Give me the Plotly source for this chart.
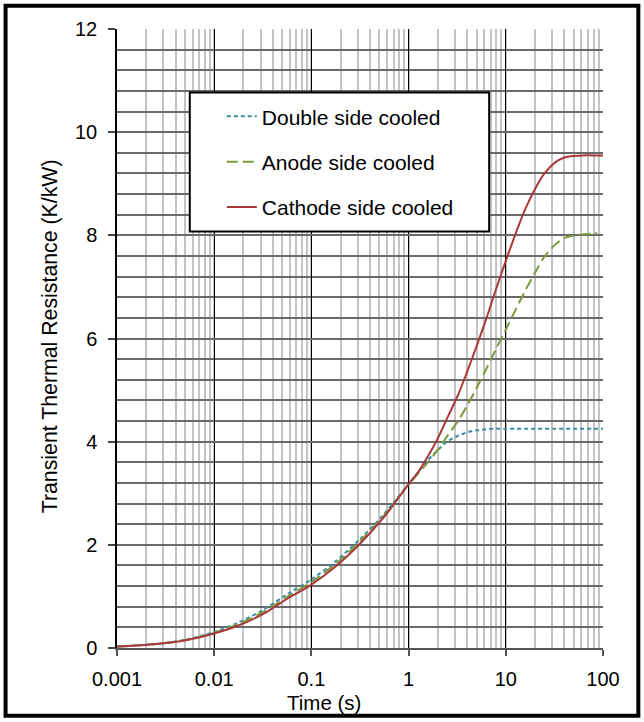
import plotly.graph_objects as go

# ---- data ----
time_s = [0.001, 0.0018, 0.0032, 0.0056, 0.01, 0.018, 0.032, 0.056, 0.1, 0.18, 0.32, 0.56,
          1, 1.26, 1.58, 2, 2.5, 3.2, 4, 5, 6.3, 7.9, 10, 12.6, 15.8, 20, 25, 32, 40, 50, 63, 79, 100]

double_side = [0.03, 0.058, 0.10, 0.18, 0.31, 0.50, 0.74, 1.04, 1.33, 1.69, 2.12, 2.60,
               3.18, 3.415, 3.64, 3.84, 4.00, 4.11, 4.18, 4.22, 4.24, 4.25, 4.25, 4.25, 4.25,
               4.25, 4.25, 4.25, 4.25, 4.25, 4.25, 4.25, 4.25]

anode_time = [0.001, 0.0018, 0.0032, 0.0056, 0.01, 0.018, 0.032, 0.056, 0.1, 0.18, 0.32, 0.56,
              1, 1.26, 1.58, 2, 2.5, 3.2, 4, 5, 6.3, 7.9, 10, 12.6, 15.8, 20, 25, 32, 40, 50, 63, 79, 87]
anode_side = [0.03, 0.056, 0.097, 0.17, 0.295, 0.47, 0.70, 0.99, 1.28, 1.64, 2.08, 2.57,
              3.17, 3.385, 3.60, 3.845, 4.11, 4.39, 4.70, 5.04, 5.41, 5.79, 6.175, 6.555, 6.925,
              7.275, 7.585, 7.815, 7.945, 7.995, 8.02, 8.035, 8.04]

cathode_side = [0.03, 0.055, 0.095, 0.165, 0.28, 0.44, 0.66, 0.95, 1.23, 1.59, 2.03, 2.54,
                3.175, 3.415, 3.715, 4.065, 4.46, 4.89, 5.355, 5.85, 6.385, 6.945, 7.505, 8.03,
                8.505, 8.90, 9.20, 9.41, 9.51, 9.54, 9.55, 9.55, 9.55]

x_tickvals = [0.001, 0.01, 0.1, 1, 10, 100]
x_ticktext = ["0.001", "0.01", "0.1", "1", "10", "100"]
y_tickvals = [0, 2, 4, 6, 8, 10, 12]

FONT = "Arial, 'Liberation Sans', sans-serif"

fig = go.Figure()
fig.add_trace(go.Scatter(x=time_s, y=double_side, mode="lines", name="Double side cooled",
                         legendgroup="a",
                         line=dict(color="#3A8EA6", width=2, dash="4px,3px", shape="spline", smoothing=0.9)))
fig.add_trace(go.Scatter(x=anode_time, y=anode_side, mode="lines", name="Anode side cooled",
                         legendgroup="b",
                         line=dict(color="#7C9A3C", width=2, dash="11px,5px", shape="spline", smoothing=0.9)))
fig.add_trace(go.Scatter(x=time_s, y=cathode_side, mode="lines", name="Cathode side cooled",
                         legendgroup="c",
                         line=dict(color="#A8383A", width=2, shape="spline", smoothing=0.9)))

L, R, T, B = 117.3, 41.3, 29.3, 73.7
W, H = 644, 722
pw, ph = W - L - R, H - T - B

def px_x(x):
    return (x - L) / pw

def px_y(y):
    return (H - B - y) / ph

fig.update_layout(
    width=W, height=H,
    margin=dict(l=L, r=R, t=T, b=B, pad=0),
    paper_bgcolor="white", plot_bgcolor="white",
    font=dict(family=FONT, size=20, color="black"),
    showlegend=True,
    legend=dict(x=px_x(222), y=px_y(96.5), xanchor="left", yanchor="top",
                bgcolor="rgba(0,0,0,0)", borderwidth=0,
                font=dict(size=21, family=FONT), tracegroupgap=15,
                itemwidth=30),
    xaxis=dict(type="log", range=[-3, 2], tickvals=x_tickvals, ticktext=x_ticktext,
               showgrid=True, gridcolor="#000000", gridwidth=1.2,
               minor=dict(showgrid=True, gridcolor="#C4C4C4", gridwidth=1.6, dtick="D1"),
               ticks="outside", ticklen=6, tickcolor="#555555", tickwidth=1.5,
               showline=True, linecolor="#555555", linewidth=2,
               ticklabelstandoff=6, zeroline=False,
               tickfont=dict(size=20, family=FONT)),
    yaxis=dict(range=[0, 12], tickvals=y_tickvals,
               showgrid=True, gridcolor="#6A6A6A", gridwidth=1.6,
               minor=dict(showgrid=True, gridcolor="#6A6A6A", gridwidth=1.6, dtick=0.4),
               ticks="outside", ticklen=7, tickcolor="#444444", tickwidth=1.5,
               showline=True, linecolor="#000000", linewidth=1.5,
               ticklabelstandoff=7, zeroline=False,
               tickfont=dict(size=20, family=FONT)),
    annotations=[
        dict(text="Time (s)", xref="paper", yref="paper", x=px_x(324), y=px_y(703),
             xanchor="center", yanchor="middle", showarrow=False,
             font=dict(size=20.5, family=FONT)),
        dict(text="Transient Thermal Resistance (K/kW)", xref="paper", yref="paper",
             x=px_x(50), y=px_y(337), textangle=-90,
             xanchor="center", yanchor="middle", showarrow=False,
             font=dict(size=21.3, family=FONT)),
    ],
    shapes=[
        # legend box
        dict(type="rect", xref="paper", yref="paper",
             x0=px_x(190), x1=px_x(489), y0=px_y(231.7), y1=px_y(92.7),
             fillcolor="white", line=dict(color="black", width=2), layer="above"),
        # outer frame
        dict(type="rect", xref="paper", yref="paper",
             x0=px_x(6), x1=px_x(638), y0=px_y(716), y1=px_y(6),
             fillcolor="rgba(0,0,0,0)", line=dict(color="black", width=4), layer="above"),
    ],
)

fig.write_html("out.html", config={"displayModeBar": False},
               post_script="document.body.style.margin='0';document.body.style.padding='0';")
